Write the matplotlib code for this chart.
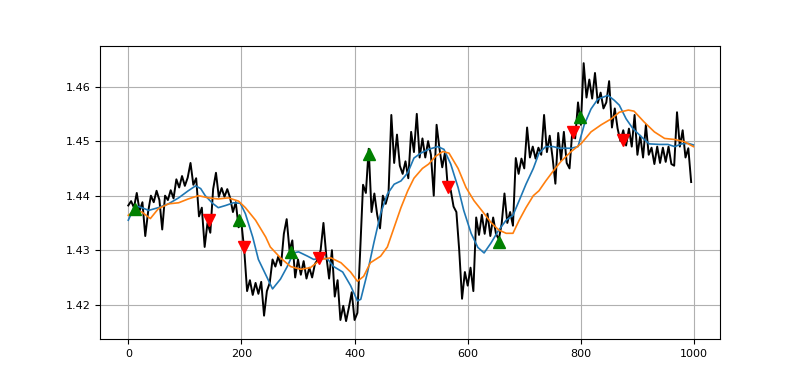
import numpy as np
import matplotlib
matplotlib.use('Agg')
import matplotlib.pyplot as plt

# price series, read every 5 bars
price_x = np.arange(0, 1000, 5)
price = [1.4382, 1.4390, 1.4378, 1.4405, 1.4372, 1.4388, 1.4326, 1.4370, 1.4400, 1.4388,
         1.4409, 1.4392, 1.4338, 1.4400, 1.4392, 1.4410, 1.4395, 1.4430, 1.4415, 1.4436,
         1.4418, 1.4433, 1.4460, 1.4420, 1.4432, 1.4362, 1.4378, 1.4306, 1.4350, 1.4332,
         1.4412, 1.4442, 1.4398, 1.4414, 1.4398, 1.4412, 1.4396, 1.4370, 1.4388, 1.4342,
         1.4350, 1.4300, 1.4225, 1.4245, 1.4218, 1.4240, 1.4220, 1.4242, 1.4180, 1.4225,
         1.4240, 1.4283, 1.4270, 1.4288, 1.4272, 1.4330, 1.4357, 1.4300, 1.4318, 1.4250,
         1.4283, 1.4255, 1.4280, 1.4248, 1.4268, 1.4250, 1.4275, 1.4283, 1.4300, 1.4350,
         1.4290, 1.4248, 1.4300, 1.4215, 1.4245, 1.4172, 1.4198, 1.4170, 1.4195, 1.4223,
         1.4172, 1.4185, 1.4300, 1.4420, 1.4405, 1.4486, 1.4370, 1.4404, 1.4365, 1.4340,
         1.4400, 1.4385, 1.4404, 1.4548, 1.4460, 1.4512, 1.4455, 1.4440, 1.4463, 1.4432,
         1.4517, 1.4480, 1.4550, 1.4470, 1.4505, 1.4470, 1.4500, 1.4475, 1.4400, 1.4530,
         1.4487, 1.4452, 1.4480, 1.4412, 1.4410, 1.4380, 1.4370, 1.4300, 1.4211, 1.4260,
         1.4235, 1.4268, 1.4225, 1.4360, 1.4328, 1.4365, 1.4330, 1.4367, 1.4326, 1.4360,
         1.4330, 1.4320, 1.4348, 1.4404, 1.4350, 1.4370, 1.4345, 1.4469, 1.4440, 1.4468,
         1.4450, 1.4525, 1.4470, 1.4490, 1.4468, 1.4488, 1.4475, 1.4548, 1.4480, 1.4510,
         1.4470, 1.4422, 1.4515, 1.4465, 1.4517, 1.4460, 1.4450, 1.4520, 1.4505, 1.4571,
         1.4530, 1.4643, 1.4580, 1.4613, 1.4578, 1.4625, 1.4570, 1.4589, 1.4560, 1.4571,
         1.4610, 1.4525, 1.4560, 1.4523, 1.4500, 1.4520, 1.4492, 1.4523, 1.4490, 1.4548,
         1.4475, 1.4510, 1.4470, 1.4530, 1.4475, 1.4488, 1.4458, 1.4490, 1.4460, 1.4488,
         1.4462, 1.4490, 1.4458, 1.4455, 1.4553, 1.4490, 1.4520, 1.4470, 1.4487, 1.4425]

# fast moving average (blue)
fast_x = [0, 12, 24, 36, 53, 71, 89, 106, 119, 128, 136, 149, 159, 172, 186, 198, 207, 220, 230, 243,
          255, 269, 281, 292, 301, 317, 328, 340, 352, 363, 379, 393, 405, 411, 423, 434, 446, 458, 470, 482,
          494, 505, 517, 531, 547, 558, 570, 583, 593, 606, 618, 629, 641, 655, 668, 680, 691, 703, 716, 726,
          738, 751, 762, 783, 795, 806, 818, 830, 848, 859, 868, 880, 892, 907, 921, 939, 954, 966, 978, 990, 999]
fast_ma = [1.4355, 1.4382, 1.4378, 1.4373, 1.4378, 1.4385, 1.4396, 1.4409, 1.4418, 1.4413,
           1.4400, 1.4386, 1.4378, 1.4382, 1.4387, 1.4386, 1.4367, 1.4324, 1.4283, 1.4255,
           1.4229, 1.4247, 1.4270, 1.4295, 1.4297, 1.4289, 1.4283, 1.4286, 1.4284, 1.4270,
           1.4260, 1.4235, 1.4207, 1.4210, 1.4260, 1.4313, 1.4367, 1.4403, 1.4421, 1.4427,
           1.4442, 1.4469, 1.4478, 1.4485, 1.4490, 1.4485, 1.4458, 1.4415, 1.4373, 1.4331,
           1.4305, 1.4295, 1.4313, 1.4337, 1.4355, 1.4364, 1.4391, 1.4421, 1.4450, 1.4478,
           1.4490, 1.4490, 1.4487, 1.4487, 1.4490, 1.4530, 1.4559, 1.4577, 1.4584, 1.4575,
           1.4566, 1.4541, 1.4523, 1.4508, 1.4495, 1.4494, 1.4494, 1.4490, 1.4495, 1.4496, 1.4493]

# slow moving average (orange)
slow_x = [0, 12, 24, 39, 53, 71, 89, 106, 124, 142, 159, 177, 195, 207, 225, 243, 251, 269, 287, 305,
          322, 340, 358, 376, 393, 405, 416, 428, 446, 458, 470, 482, 494, 505, 520, 531, 543, 556, 567, 583,
          597, 611, 627, 641, 655, 668, 680, 691, 703, 716, 726, 738, 751, 765, 783, 801, 818, 836, 854, 868,
          884, 894, 912, 930, 948, 966, 983, 999]
slow_ma = [1.4364, 1.4373, 1.4370, 1.4358, 1.4376, 1.4385, 1.4387, 1.4394, 1.4400, 1.4396,
           1.4394, 1.4396, 1.4390, 1.4378, 1.4355, 1.4324, 1.4306, 1.4286, 1.4270, 1.4265,
           1.4268, 1.4283, 1.4286, 1.4277, 1.4260, 1.4243, 1.4252, 1.4277, 1.4289, 1.4306,
           1.4342, 1.4378, 1.4409, 1.4432, 1.4450, 1.4458, 1.4472, 1.4481, 1.4478, 1.4450,
           1.4415, 1.4391, 1.4370, 1.4351, 1.4337, 1.4331, 1.4331, 1.4355, 1.4378, 1.4400,
           1.4409, 1.4427, 1.4445, 1.4463, 1.4481, 1.4496, 1.4517, 1.4530, 1.4541, 1.4553,
           1.4557, 1.4555, 1.4535, 1.4517, 1.4505, 1.4503, 1.4499, 1.4490]

# signals
buy_x = [11, 195, 287, 425, 656, 798]
buy_y = [1.4376, 1.4355, 1.4296, 1.4476, 1.4315, 1.4544]
sell_x = [142, 204, 337, 565, 786, 875]
sell_y = [1.4355, 1.4306, 1.4285, 1.4416, 1.4517, 1.4503]

fig, ax = plt.subplots(figsize=(8, 3.81), dpi=100)
ax.plot(price_x, price, color='black', linewidth=1.4)
ax.plot(fast_x, fast_ma, color='C0', linewidth=1.2)
ax.plot(slow_x, slow_ma, color='C1', linewidth=1.2)
ax.plot(buy_x, buy_y, '^', color='green', markersize=8, linestyle='none')
ax.plot(sell_x, sell_y, 'v', color='red', markersize=8, linestyle='none')
ax.set_xlim(-50, 1046)
ax.set_ylim(1.4137, 1.4675)
ax.set_yticks([1.42, 1.43, 1.44, 1.45, 1.46])
ax.tick_params(labelsize=8)
ax.grid(True)
plt.savefig('out.png')
